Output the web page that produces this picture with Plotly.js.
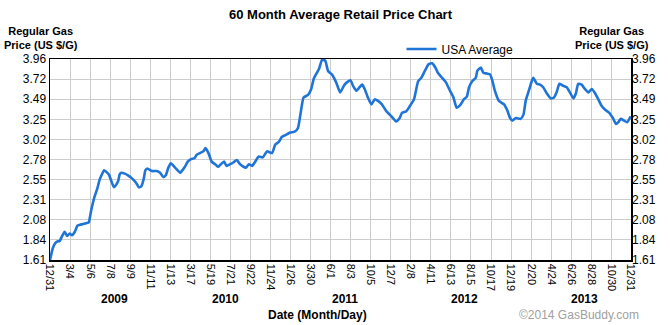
<!DOCTYPE html>
<html>
<head>
<meta charset="utf-8">
<script src="https://cdn.plot.ly/plotly-3.0.1.min.js"></script>
<style>html,body{margin:0;padding:0;background:#fff}#chart{width:670px;height:325px}</style>
</head>
<body>
<div id="chart"></div>
<script>
// ---- data ----
const startDate = '2008-12-31';
// days since start date
const dayOffset = [0,9,17,25,30,38,46,54,62,69,78,86,93,104,114,122,125,130,135,140,149,156,163,170,177,185,193,201,208,214,219,224,235,245,256,264,271,279,287,294,300,306,320,335,346,356,364,372,380,393,409,414,424,433,443,454,461,471,482,489,498,508,519,529,537,547,555,566,576,587,597,608,616,625,635,645,656,669,682,698,708,719,729,740,755,769,779,787,797,811,821,829,839,846,855,865,874,886,899,912,924,934,945,952,963,973,981,989,999,1010,1021,1031,1043,1057,1073,1088,1099,1106,1120,1131,1144,1157,1167,1178,1190,1201,1211,1219,1230,1244,1257,1268,1278,1289,1301,1310,1317,1327,1338,1343,1354,1362,1373,1383,1390,1398,1411,1427,1437,1446,1453,1464,1479,1488,1495,1505,1514,1519,1530,1540,1550,1561,1574,1584,1593,1601,1611,1624,1634,1645,1653,1660,1671,1681,1692,1703,1713,1723,1734,1744,1758,1769,1779,1786,1794,1804,1814,1825];
const usaAverage = [1.61,1.75,1.81,1.83,1.83,1.89,1.94,1.89,1.92,1.90,1.94,2.01,2.02,2.03,2.04,2.05,2.10,2.20,2.28,2.35,2.45,2.55,2.61,2.66,2.64,2.61,2.53,2.46,2.49,2.53,2.61,2.63,2.62,2.60,2.57,2.54,2.51,2.46,2.47,2.55,2.66,2.68,2.65,2.65,2.63,2.58,2.60,2.69,2.74,2.69,2.63,2.65,2.70,2.76,2.79,2.80,2.84,2.86,2.88,2.92,2.86,2.76,2.73,2.70,2.73,2.76,2.71,2.73,2.75,2.78,2.73,2.70,2.69,2.73,2.71,2.76,2.82,2.81,2.88,2.86,2.96,2.99,3.05,3.07,3.10,3.11,3.15,3.31,3.51,3.54,3.61,3.73,3.80,3.85,3.95,3.94,3.82,3.78,3.69,3.57,3.65,3.69,3.71,3.65,3.59,3.63,3.66,3.61,3.51,3.43,3.49,3.47,3.43,3.35,3.29,3.23,3.27,3.33,3.35,3.41,3.49,3.70,3.74,3.82,3.90,3.91,3.86,3.80,3.75,3.69,3.59,3.51,3.39,3.42,3.49,3.52,3.63,3.70,3.74,3.82,3.86,3.80,3.79,3.78,3.71,3.59,3.47,3.43,3.36,3.27,3.24,3.27,3.26,3.31,3.47,3.59,3.70,3.74,3.67,3.66,3.63,3.56,3.50,3.51,3.58,3.67,3.65,3.63,3.57,3.50,3.56,3.67,3.66,3.61,3.57,3.61,3.56,3.49,3.41,3.37,3.33,3.27,3.20,3.22,3.26,3.24,3.22,3.29];

const xTickDates = ['2008-12-31','2009-03-04','2009-05-06','2009-07-08','2009-09-09','2009-11-11','2010-01-13','2010-03-17','2010-05-19','2010-07-21','2010-09-22','2010-11-24','2011-01-26','2011-03-30','2011-06-01','2011-08-03','2011-10-05','2011-12-07','2012-02-08','2012-04-11','2012-06-13','2012-08-15','2012-10-17','2012-12-19','2013-02-20','2013-04-24','2013-06-26','2013-08-28','2013-10-30','2013-12-31'];
const xTickLabels = ['12/31','3/4','5/6','7/8','9/9','11/11','1/13','3/17','5/19','7/21','9/22','11/24','1/26','3/30','6/1','8/3','10/5','12/7','2/8','4/11','6/13','8/15','10/17','12/19','2/20','4/24','6/26','8/28','10/30','12/31'];
const yearLabels = ['2009','2010','2011','2012','2013'];
const yearLabelDates = ['2009-07-23','2010-07-04','2011-07-16','2012-07-27','2013-08-08'];
const yTickLabels = ['1.61','1.84','2.08','2.31','2.55','2.78','3.02','3.25','3.49','3.72','3.96'];
const seriesName = 'USA Average';

// ---- build ----
const startMs = Date.parse(startDate + 'T00:00:00Z');
const dates = dayOffset.map(d => new Date(startMs + d * 86400000).toISOString().slice(0, 10));
const yMin = parseFloat(yTickLabels[0]), yMax = parseFloat(yTickLabels[yTickLabels.length - 1]);
const yTickVals = yTickLabels.map((_, i) => yMin + i * (yMax - yMin) / (yTickLabels.length - 1));

const FONT = '"Liberation Sans", Arial, sans-serif';
const blue = '#1f74d8';

const traces = [
  {x: dates, y: usaAverage, type: 'scatter', mode: 'lines', name: seriesName,
   line: {color: blue, width: 2.6, shape: 'spline', smoothing: 0.5}, hoverinfo: 'x+y'},
  {x: dates, y: usaAverage, type: 'scatter', mode: 'lines', yaxis: 'y2', showlegend: false,
   line: {color: 'rgba(0,0,0,0)', width: 0}, hoverinfo: 'skip'}
];

const annotations = yearLabels.map((t, i) => ({
  text: '<b>' + t + '</b>', x: yearLabelDates[i], xref: 'x', y: -0.194, yref: 'paper',
  showarrow: false, xanchor: 'center', yanchor: 'middle', font: {family: FONT, size: 12, color: '#000'}
}));
annotations.push(
  {text: '<b>Date (Month/Day)</b>', x: 0.461, xref: 'paper', y: -0.274, yref: 'paper', showarrow: false,
   xanchor: 'center', yanchor: 'middle', font: {family: FONT, size: 12, color: '#000'}},
  {text: '©2014 GasBuddy.com', x: 1.017, xref: 'paper', y: -0.274, yref: 'paper', showarrow: false,
   xanchor: 'right', yanchor: 'middle', font: {family: FONT, size: 12, color: '#a0a0a0'}},
  {text: '<b>Regular Gas<br>Price (US $/G)</b>', x: -0.0826, xref: 'paper', y: 1.104, yref: 'paper', showarrow: false,
   xanchor: 'left', yanchor: 'middle', align: 'center', font: {family: FONT, size: 11, color: '#000'}},
  {text: '<b>Regular Gas<br>Price (US $/G)</b>', x: 1.0344, xref: 'paper', y: 1.104, yref: 'paper', showarrow: false,
   xanchor: 'right', yanchor: 'middle', align: 'center', font: {family: FONT, size: 11, color: '#000'}}
);

const yAxisCommon = {
  range: [yMin, yMax], tickvals: yTickVals, ticktext: yTickLabels, showgrid: true,
  gridcolor: '#cccccc', gridwidth: 1, zeroline: false, ticks: '', ticklen: 0,
  tickfont: {family: FONT, size: 12, color: '#000'}, fixedrange: true
};

const layout = {
  width: 670, height: 325,
  margin: {l: 50, r: 39, t: 59, b: 65, pad: 0},
  paper_bgcolor: '#fff', plot_bgcolor: '#fff',
  font: {family: FONT, size: 12, color: '#000'},
  title: {text: '<b>60 Month Average Retail Price Chart</b>', x: 0.5, xref: 'paper', xanchor: 'center',
          y: 0.955, yref: 'container', yanchor: 'middle', font: {family: FONT, size: 13, color: '#000'}},
  showlegend: true,
  legend: {x: 0.605, xanchor: 'left', y: 1.05, yanchor: 'middle', orientation: 'h', bgcolor: 'rgba(0,0,0,0)',
           font: {family: FONT, size: 12, color: '#000'}},
  xaxis: {
    type: 'date', range: [xTickDates[0], xTickDates[xTickDates.length - 1]],
    tickvals: xTickDates, ticktext: xTickLabels, tickangle: 90,
    showgrid: true, gridcolor: '#cccccc', gridwidth: 1, zeroline: false,
    ticks: '', showline: true, linecolor: '#000', linewidth: 1.5, mirror: true,
    tickfont: {family: FONT, size: 11, color: '#000'}, fixedrange: true
  },
  yaxis: Object.assign({}, yAxisCommon, {side: 'left', showline: true, linecolor: '#000', linewidth: 1.5, mirror: true}),
  yaxis2: Object.assign({}, yAxisCommon, {side: 'right', overlaying: 'y', showgrid: false, showline: false}),
  annotations: annotations
};

Plotly.newPlot('chart', traces, layout, {displayModeBar: false, staticPlot: true});
</script>
</body>
</html>
